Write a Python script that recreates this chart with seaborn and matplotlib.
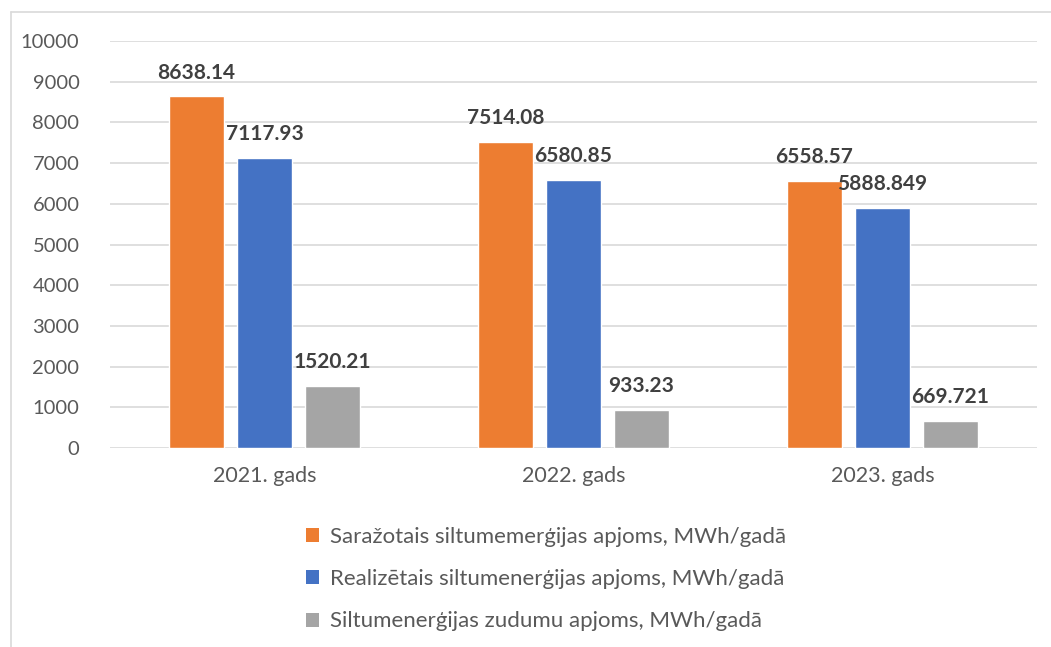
import matplotlib
matplotlib.use("Agg")
import matplotlib.pyplot as plt
import seaborn as sns
import pandas as pd
from matplotlib.lines import Line2D
from matplotlib.patches import Patch

years = ["2021. gads", "2022. gads", "2023. gads"]
series = [
    "Saražotais siltumemerģijas apjoms, MWh/gadā",
    "Realizētais siltumenerģijas apjoms, MWh/gadā",
    "Siltumenerģijas zudumu apjoms, MWh/gadā",
]
produced = [8638.14, 7514.08, 6558.57]
sold = [7117.93, 6580.85, 5888.849]
losses = [1520.21, 933.23, 669.721]
labels_produced = ["8638.14", "7514.08", "6558.57"]
labels_sold = ["7117.93", "6580.85", "5888.849"]
labels_losses = ["1520.21", "933.23", "669.721"]
colors = ["#ED7D31", "#4472C4", "#A5A5A5"]

rows = []
for vals, labs, s in zip([produced, sold, losses],
                         [labels_produced, labels_sold, labels_losses], series):
    for y, v, l in zip(years, vals, labs):
        rows.append({"year": y, "series": s, "value": v, "label": l})
df = pd.DataFrame(rows)

sns.set_style("white")
plt.rcParams["font.family"] = ["Lato", "DejaVu Sans"]

fig = plt.figure(figsize=(10.51, 6.47), dpi=100)
ax = fig.add_axes([110 / 1051, 1 - 448 / 647, (1037 - 110) / 1051, (448 - 41) / 647])

sns.barplot(data=df, x="year", y="value", hue="series", palette=colors,
            width=0.66, gap=0.205, order=years, hue_order=series,
            ax=ax, legend=False, saturation=1)

ax.set_ylim(0, 10000)
ax.set_yticks(range(0, 10001, 1000))
ax.set_xlim(-0.5, 2.5)
ax.grid(axis="y", color="#D9D9D9", linewidth=1.2)
ax.set_axisbelow(True)
for sp in ax.spines.values():
    sp.set_visible(False)
ax.set_xlabel("")
ax.set_ylabel("")
ax.tick_params(axis="y", length=0, labelsize=14.5, labelcolor="#595959", pad=22)
ax.tick_params(axis="x", length=0, labelsize=15.5, labelcolor="#595959", pad=13)

for cont, s in zip(ax.containers, series):
    labs = df[df["series"] == s]["label"].tolist()
    ax.bar_label(cont, labels=labs, padding=10, fontsize=15,
                 fontweight="bold", color="#404040")

handles = [Patch(facecolor=c, edgecolor="none") for c in colors]
fig.legend(handles, series, loc="upper left",
           bbox_to_anchor=(286 / 1051, 1 - 507 / 647), frameon=False,
           fontsize=16, labelcolor="#595959", handlelength=0.6,
           handleheight=0.6, handletextpad=0.5, labelspacing=1.0)

fig.add_artist(Line2D([11 / 1051, 11 / 1051], [0, 1 - 12 / 647],
                      transform=fig.transFigure, color="#D9D9D9", linewidth=1.2))
fig.add_artist(Line2D([11 / 1051, 1], [1 - 12 / 647, 1 - 12 / 647],
                      transform=fig.transFigure, color="#D9D9D9", linewidth=1.2))

fig.savefig("out.png", dpi=100)
